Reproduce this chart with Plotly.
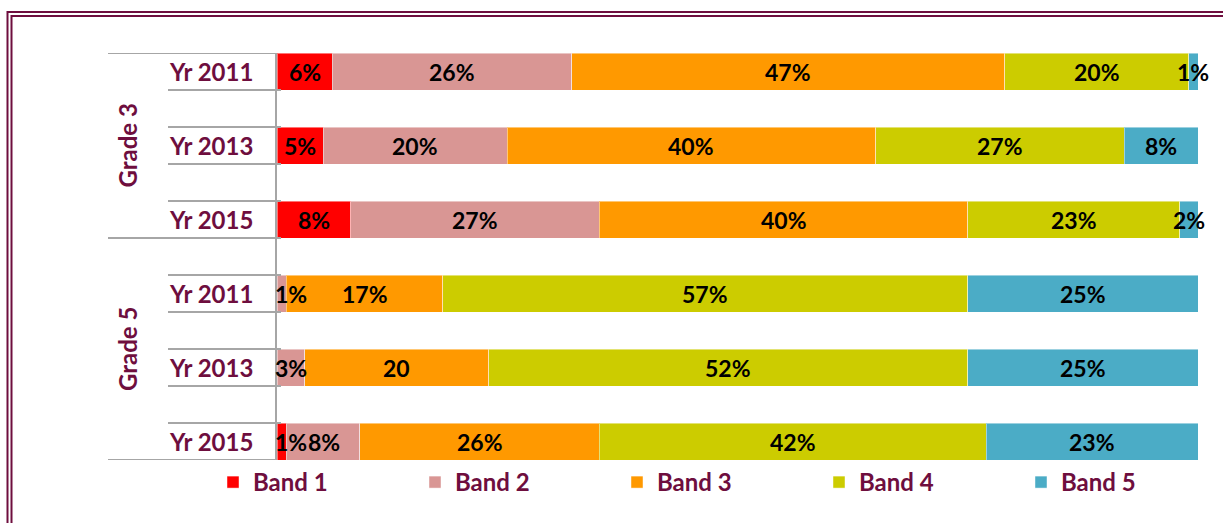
import plotly.graph_objects as go

# Rows, top to bottom
grades = ["Grade 3", "Grade 3", "Grade 3", "Grade 5", "Grade 5", "Grade 5"]
years = ["Yr 2011", "Yr 2013", "Yr 2015", "Yr 2011", "Yr 2013", "Yr 2015"]

bands = ["Band 1", "Band 2", "Band 3", "Band 4", "Band 5"]
band1 = [6, 5, 8, 0, 0, 1]
band2 = [26, 20, 27, 1, 3, 8]
band3 = [47, 40, 40, 17, 20, 26]
band4 = [20, 27, 23, 57, 52, 42]
band5 = [1, 8, 2, 25, 25, 23]
band_values = [band1, band2, band3, band4, band5]
band_colors = ["#FF0000", "#D99694", "#FF9900", "#CCCC00", "#4BACC6"]

# Grade 5 / Yr 2013 / Band 3 is labelled without the percent sign
plain_labels = {(2, 4)}

# Slot positions on the value axis (one blank slot between rows)
row_pos = [10, 8, 6, 4, 2, 0]

W, H = 1223, 523
ML, MR, MT, MB = 277, 25, 53, 63
PW = W - ML - MR
MAROON = "#6E0E3E"
GRID = "#A6A6A6"
FONT = "Lato"
FS = 24
VFS = 23  # value label size


def px_x(px):
    return (px - ML) / PW


def label_width(text):
    # rough advance width of a bold label, in axis units (0..100)
    em = sum(0.87 if ch == "%" else 0.58 for ch in text)
    return em * VFS / PW * 100


fig = go.Figure()
for b, (name, vals, col) in enumerate(zip(bands, band_values, band_colors)):
    fig.add_trace(go.Bar(
        name=name,
        x=vals,
        y=row_pos,
        orientation="h",
        width=1,
        marker=dict(color=col, line=dict(color="rgba(255,255,255,0.45)", width=1)),
        hoverinfo="name+x",
    ))

annotations = []
# value labels centred on each segment; a narrow first segment keeps its
# label against the start of the axis, and neighbours are pushed apart
for r, pos in enumerate(row_pos):
    start = 0
    prev_right = None
    for b, vals in enumerate(band_values):
        v = vals[r]
        if v > 0:
            label = f"{v}" if (b, r) in plain_labels else f"{v}%"
            w = label_width(label)
            centre = start + v / 2
            if start == 0 and centre - w / 2 < 0:
                centre = w / 2 - 0.3
            if prev_right is not None and centre - w / 2 < prev_right:
                centre = prev_right + w / 2
            prev_right = centre + w / 2
            annotations.append(dict(x=centre, y=pos, xref="x", yref="y", text=label,
                                    showarrow=False, xanchor="center", yanchor="middle",
                                    font=dict(family=FONT, size=VFS, color="black",
                                              weight="bold")))
        start += v

shapes = []
# category separator lines
for k in range(12):
    yb = k - 0.5
    long_line = yb in (-0.5, 5.5, 10.5)
    x0 = px_x(108) if long_line else px_x(168)
    shapes.append(dict(type="line", xref="paper", yref="y", x0=x0, x1=0,
                       y0=yb, y1=yb, line=dict(color=GRID, width=2)))

# double frame round the chart
for off in (7.5, 11.5):
    shapes.append(dict(type="rect", xref="paper", yref="paper",
                       x0=px_x(off), x1=px_x(W + 20),
                       y0=1 + (MT - (off + 4.5)) / (H - MT - MB),
                       y1=-(MB + 20) / (H - MT - MB),
                       line=dict(color=MAROON, width=2), fillcolor="rgba(0,0,0,0)"))

for pos, yr in zip(row_pos, years):
    annotations.append(dict(x=px_x(211), y=pos, xref="paper", yref="y", text=yr,
                            showarrow=False, xanchor="center", yanchor="middle",
                            font=dict(family=FONT, size=FS, color=MAROON, weight="bold")))
for g, ypos in (("Grade 3", 8), ("Grade 5", 2.5)):
    annotations.append(dict(x=px_x(127), y=ypos, xref="paper", yref="y", text=g,
                            showarrow=False, textangle=-90, xanchor="center", yanchor="middle",
                            font=dict(family=FONT, size=FS, color=MAROON, weight="bold")))

fig.update_layout(
    width=W, height=H,
    margin=dict(l=ML, r=MR, t=MT, b=MB),
    barmode="stack",
    paper_bgcolor="white",
    plot_bgcolor="white",
    showlegend=True,
    legend=dict(orientation="h", x=px_x(240), xanchor="left", y=0.0, yanchor="top",
                entrywidth=157, entrywidthmode="pixels", traceorder="normal",
                font=dict(family=FONT, size=FS, color=MAROON, weight="bold"),
                itemclick=False, itemdoubleclick=False),
    xaxis=dict(range=[0, 100], visible=False, fixedrange=True),
    yaxis=dict(range=[-0.5, 10.5], showticklabels=False, showgrid=False, zeroline=False,
               showline=True, linecolor=GRID, linewidth=2,
               ticks="inside", ticklen=4, tickcolor=GRID, tickwidth=2,
               tickvals=[k - 0.5 for k in range(12)], fixedrange=True),
    shapes=shapes,
    annotations=annotations,
)

fig.write_html("out.html")
